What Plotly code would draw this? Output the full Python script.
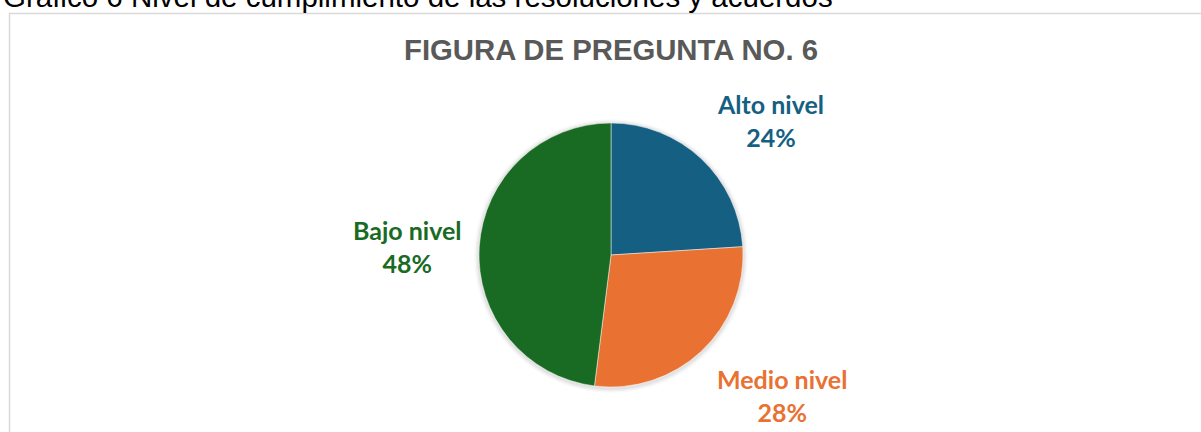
import plotly.graph_objects as go

W, H = 1201, 432

categories = ["Alto nivel", "Medio nivel", "Bajo nivel"]
values = [24, 28, 48]
colors = ["#156082", "#E97132", "#196B24"]
title_text = "FIGURA DE PREGUNTA NO. 6"
caption_text = "Gráfico 6 Nivel de cumplimiento de las resoluciones y acuerdos"

# label positions in pixels (center of the two-line label)
label_px = {"Alto nivel": (770, 120), "Medio nivel": (782, 395), "Bajo nivel": (407, 246)}

cx, cy, r = 611, 255, 132


def px(x):
    return x / W


def py(y):
    return 1 - y / H


fig = go.Figure()
fig.add_trace(go.Pie(
    labels=categories,
    values=values,
    sort=False,
    direction="clockwise",
    rotation=0,
    marker=dict(colors=colors, line=dict(color="rgba(255,255,255,0.6)", width=0.8)),
    textinfo="none",
    hoverinfo="label+percent",
    showlegend=False,
    domain=dict(x=[px(cx - r), px(cx + r)], y=[py(cy + r), py(cy - r)]),
))

shapes = [
    dict(type="rect", xref="paper", yref="paper",
         x0=px(9.5), x1=px(W + 20), y0=py(H + 20), y1=py(13.5),
         line=dict(color="#d9d9d9", width=1.5), fillcolor="rgba(0,0,0,0)", layer="below"),
]
# soft shadow/glow around pie
for d, a in [(5, 0.025), (3.5, 0.035), (2, 0.05)]:
    shapes.append(dict(type="circle", xref="paper", yref="paper",
                       x0=px(cx - r - d), x1=px(cx + r + d),
                       y0=py(cy + r + d + 1), y1=py(cy - r - d + 1),
                       line=dict(width=0), fillcolor=f"rgba(0,0,0,{a})", layer="below"))

total = sum(values)
annotations = [
    dict(text=caption_text, xref="paper", yref="paper", x=px(1), y=py(-3.5),
         xanchor="left", yanchor="middle", showarrow=False,
         font=dict(family="Liberation Sans, Arial", size=29.5, color="#000000")),
    dict(text=f"<b>{title_text}</b>", xref="paper", yref="paper", x=px(cx), y=py(50),
         xanchor="center", yanchor="middle", showarrow=False,
         font=dict(family="Liberation Sans, Arial", size=29.3, color="#595959")),
]
for cat, v, c in zip(categories, values, colors):
    lx, ly = label_px[cat]
    annotations.append(dict(
        text=f"<b>{cat}</b><br><b>{round(100 * v / total)}%</b>",
        xref="paper", yref="paper", x=px(lx), y=py(ly),
        xanchor="center", yanchor="middle", showarrow=False,
        font=dict(family="Lato, Inter, sans-serif", size=25, color=c),
    ))

fig.update_layout(
    width=W, height=H,
    margin=dict(l=0, r=0, t=0, b=0),
    paper_bgcolor="white", plot_bgcolor="white",
    shapes=shapes, annotations=annotations,
)

fig.write_html("out.html", config={"displayModeBar": False},
               post_script="document.body.style.margin='0';")
